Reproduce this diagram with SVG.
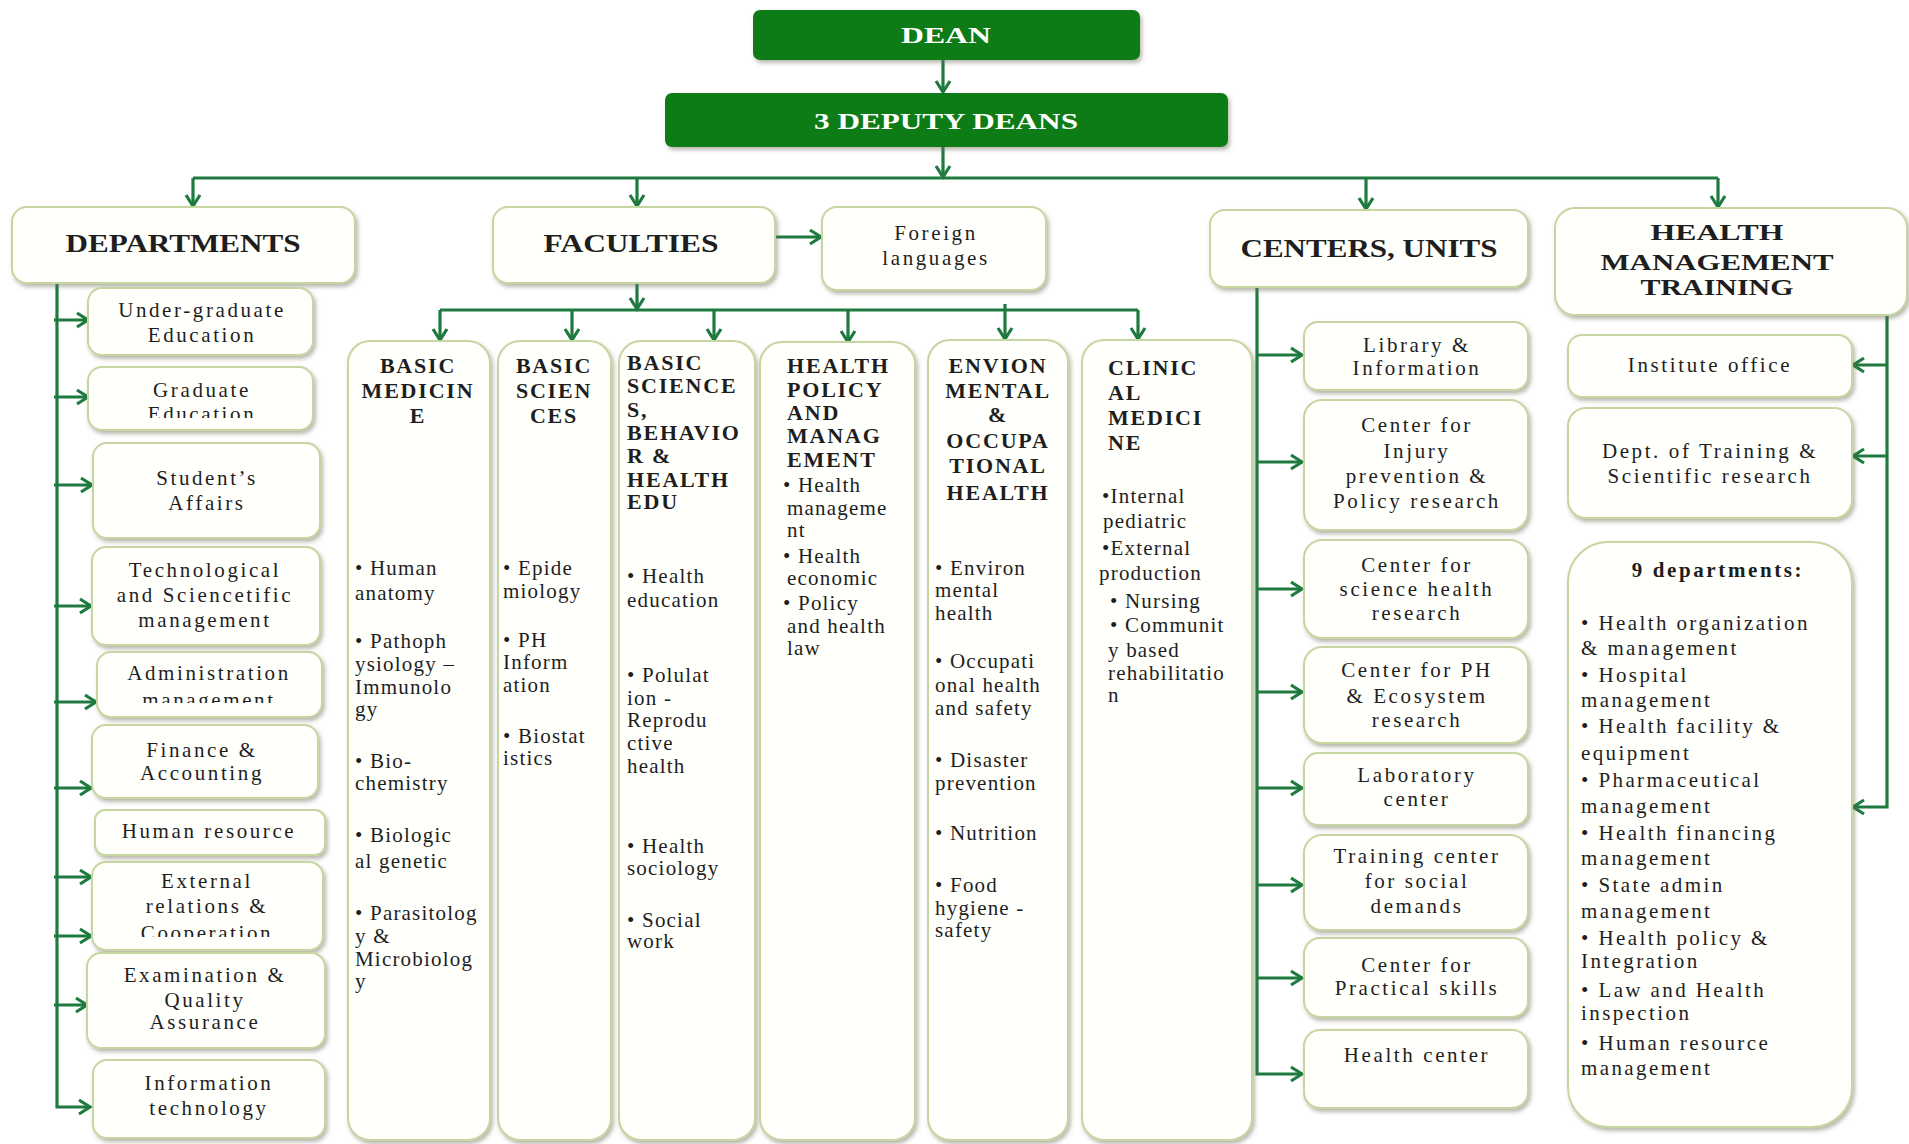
<svg xmlns="http://www.w3.org/2000/svg" width="1909" height="1144" viewBox="0 0 1909 1144">
<style>
text{font-family:"Liberation Serif","Times New Roman",serif;fill:#1e1e1e}
.box{fill:#fffffc;stroke:#c6d6a0;stroke-width:2;filter:url(#sh)}
.dbox{fill:#117c13;filter:url(#sh)}
.conn{stroke:#1e7a3f;stroke-width:3.2;fill:none}
.arr{marker-end:url(#ah)}
.w{fill:#ffffff;font-weight:bold;font-size:23px;text-anchor:middle}
.h{font-weight:bold;font-size:25px;text-anchor:middle}
.h2{font-weight:bold;font-size:23px;text-anchor:middle}
.t{font-size:21px;letter-spacing:2.6px;text-anchor:middle}
.l{font-size:21px;letter-spacing:2.4px}
.ft{font-weight:bold;font-size:22px;letter-spacing:1.8px}
.fc{text-anchor:middle}
.fb{font-size:21px;letter-spacing:1.2px}
.b{font-weight:bold}
</style>
<defs>
<filter id="sh" x="-10%" y="-10%" width="125%" height="125%">
<feDropShadow dx="2" dy="3" stdDeviation="2" flood-color="#6f6f60" flood-opacity="0.5"/>
</filter>
<marker id="ah" markerUnits="userSpaceOnUse" markerWidth="18" markerHeight="18" refX="14" refY="9" orient="auto" viewBox="0 0 18 18">
<path d="M3,2 L14,9 L3,16" fill="none" stroke="#1e7a3f" stroke-width="3.2"/>
</marker>
<clipPath id="c1"><rect x="88" y="367" width="225" height="51"/></clipPath>
<clipPath id="c2"><rect x="97" y="652" width="225" height="51"/></clipPath>
<clipPath id="c3"><rect x="92" y="862" width="231" height="75"/></clipPath>
</defs>
<rect width="1909" height="1144" fill="#ffffff"/>

<g id="connectors">
<path class="conn arr" d="M943,60 V92"/>
<path class="conn arr" d="M943,147 V177"/>
<path class="conn" d="M193,178 H1718"/>
<path class="conn arr" d="M193,178 V206"/>
<path class="conn arr" d="M637,178 V206"/>
<path class="conn arr" d="M1366,178 V209"/>
<path class="conn arr" d="M1718,178 V207"/>
<path class="conn arr" d="M775,237 H821"/>
<path class="conn arr" d="M637,283 V309"/>
<path class="conn" d="M440,310 H1138"/>
<path class="conn arr" d="M440,310 V340"/>
<path class="conn arr" d="M572,310 V340"/>
<path class="conn arr" d="M714,310 V340"/>
<path class="conn arr" d="M848,310 V342"/>
<path class="conn arr" d="M1005,304 V339"/>
<path class="conn arr" d="M1138,310 V339"/>
<path class="conn arr" d="M57,283 V1107 H90"/>
<path class="conn arr" d="M54,320 H88"/>
<path class="conn arr" d="M54,397 H88"/>
<path class="conn arr" d="M54,485 H92"/>
<path class="conn arr" d="M54,606 H91"/>
<path class="conn arr" d="M54,702 H96"/>
<path class="conn arr" d="M54,788 H91"/>
<path class="conn arr" d="M54,877 H91"/>
<path class="conn arr" d="M54,936 H91"/>
<path class="conn arr" d="M54,1005 H87"/>
<path class="conn arr" d="M1257,287 V1074 H1302"/>
<path class="conn arr" d="M1257,355 H1302"/>
<path class="conn arr" d="M1257,462 H1302"/>
<path class="conn arr" d="M1257,589 H1302"/>
<path class="conn arr" d="M1257,692 H1302"/>
<path class="conn arr" d="M1257,788 H1302"/>
<path class="conn arr" d="M1257,885 H1302"/>
<path class="conn arr" d="M1257,978 H1302"/>
<path class="conn arr" d="M1887,315 V807 H1853"/>
<path class="conn arr" d="M1887,365 H1853"/>
<path class="conn arr" d="M1887,456 H1853"/>
</g>

<g id="dean">
<rect class="dbox" x="753" y="10" width="387" height="50" rx="7"/>
<text class="w" x="946" y="43" textLength="90" lengthAdjust="spacingAndGlyphs">DEAN</text>
</g>
<g id="deputy">
<rect class="dbox" x="665" y="93" width="563" height="54" rx="7"/>
<text class="w" x="946" y="129" textLength="264" lengthAdjust="spacingAndGlyphs">3 DEPUTY DEANS</text>
</g>

<g id="departments">
<rect class="box" x="12" y="207" width="343" height="76" rx="15"/>
<text class="h" x="183" y="252" textLength="235" lengthAdjust="spacingAndGlyphs">DEPARTMENTS</text>
</g>
<g id="faculties">
<rect class="box" x="493" y="207" width="282" height="76" rx="15"/>
<text class="h" x="631" y="252" textLength="175" lengthAdjust="spacingAndGlyphs">FACULTIES</text>
</g>
<g id="foreign">
<rect class="box" x="822" y="207" width="224" height="83" rx="15"/>
<text class="t" x="936"><tspan x="936" y="240">Foreign</tspan><tspan x="936" y="265">languages</tspan></text>
</g>
<g id="centers">
<rect class="box" x="1210" y="210" width="318" height="77" rx="15"/>
<text class="h" x="1369" y="257" textLength="257" lengthAdjust="spacingAndGlyphs">CENTERS, UNITS</text>
</g>
<g id="hmt">
<rect class="box" x="1555" y="208" width="352" height="107" rx="20"/>
<text class="h2" x="1717" y="240" textLength="133" lengthAdjust="spacingAndGlyphs">HEALTH</text>
<text class="h2" x="1717" y="270" textLength="233" lengthAdjust="spacingAndGlyphs">MANAGEMENT</text>
<text class="h2" x="1717" y="295" textLength="153" lengthAdjust="spacingAndGlyphs">TRAINING</text>
</g>

<g id="dep-undergrad">
<rect class="box" x="88" y="288" width="225" height="67" rx="14"/>
<text class="t"><tspan x="202" y="317">Under-graduate</tspan><tspan x="202" y="342">Education</tspan></text>
</g>
<g id="dep-grad">
<rect class="box" x="88" y="367" width="225" height="63" rx="14"/>
<text class="t" clip-path="url(#c1)"><tspan x="202" y="397">Graduate</tspan><tspan x="202" y="421">Education</tspan></text>
</g>
<g id="dep-student">
<rect class="box" x="93" y="443" width="227" height="95" rx="14"/>
<text class="t"><tspan x="207" y="485">Student’s</tspan><tspan x="207" y="510">Affairs</tspan></text>
</g>
<g id="dep-tech">
<rect class="box" x="92" y="547" width="228" height="98" rx="14"/>
<text class="t"><tspan x="205" y="577">Technological</tspan><tspan x="205" y="602">and Sciencetific</tspan><tspan x="205" y="627">management</tspan></text>
</g>
<g id="dep-admin">
<rect class="box" x="97" y="652" width="225" height="65" rx="14"/>
<text class="t" clip-path="url(#c2)"><tspan x="209" y="680">Administration</tspan><tspan x="209" y="707">management</tspan></text>
</g>
<g id="dep-finance">
<rect class="box" x="92" y="725" width="226" height="73" rx="14"/>
<text class="t"><tspan x="202" y="757">Finance &amp;</tspan><tspan x="202" y="780">Accounting</tspan></text>
</g>
<g id="dep-hr">
<rect class="box" x="95" y="810" width="230" height="45" rx="10"/>
<text class="t" x="209" y="838">Human resource</text>
</g>
<g id="dep-external">
<rect class="box" x="92" y="862" width="231" height="88" rx="14"/>
<text class="t" clip-path="url(#c3)"><tspan x="207" y="888">External</tspan><tspan x="207" y="913">relations &amp;</tspan><tspan x="207" y="940">Cooperation</tspan></text>
</g>
<g id="dep-exam">
<rect class="box" x="87" y="953" width="238" height="95" rx="14"/>
<text class="t"><tspan x="205" y="982">Examination &amp;</tspan><tspan x="205" y="1007">Quality</tspan><tspan x="205" y="1029">Assurance</tspan></text>
</g>
<g id="dep-it">
<rect class="box" x="93" y="1060" width="232" height="78" rx="14"/>
<text class="t"><tspan x="209" y="1090">Information</tspan><tspan x="209" y="1115">technology</tspan></text>
</g>

<g id="fac-basic-medicine">
<rect class="box" x="348" y="341" width="142" height="799" rx="22"/>
<text class="ft fc"><tspan x="418" y="373">BASIC</tspan><tspan x="418" y="398">MEDICIN</tspan><tspan x="418" y="423">E</tspan></text>
<text class="fb"><tspan x="355" y="575">• Human</tspan><tspan x="355" y="600">anatomy</tspan><tspan x="355" y="648">• Pathoph</tspan><tspan x="355" y="671">ysiology –</tspan><tspan x="355" y="694">Immunolo</tspan><tspan x="355" y="716">gy</tspan><tspan x="355" y="768">• Bio-</tspan><tspan x="355" y="790">chemistry</tspan><tspan x="355" y="842">• Biologic</tspan><tspan x="355" y="868">al genetic</tspan><tspan x="355" y="920">• Parasitolog</tspan><tspan x="355" y="943">y &amp;</tspan><tspan x="355" y="966">Microbiolog</tspan><tspan x="355" y="988">y</tspan></text>
</g>
<g id="fac-basic-sciences">
<rect class="box" x="498" y="341" width="113" height="799" rx="22"/>
<text class="ft fc"><tspan x="554" y="373">BASIC</tspan><tspan x="554" y="398">SCIEN</tspan><tspan x="554" y="423">CES</tspan></text>
<text class="fb"><tspan x="503" y="575">• Epide</tspan><tspan x="503" y="598">miology</tspan><tspan x="503" y="647">• PH</tspan><tspan x="503" y="669">Inform</tspan><tspan x="503" y="692">ation</tspan><tspan x="503" y="743">• Biostat</tspan><tspan x="503" y="765">istics</tspan></text>
</g>
<g id="fac-behavior">
<rect class="box" x="619" y="341" width="136" height="799" rx="22"/>
<text class="ft"><tspan x="627" y="370">BASIC</tspan><tspan x="627" y="393">SCIENCE</tspan><tspan x="627" y="417">S,</tspan><tspan x="627" y="440">BEHAVIO</tspan><tspan x="627" y="463">R &amp;</tspan><tspan x="627" y="487">HEALTH</tspan><tspan x="627" y="509">EDU</tspan></text>
<text class="fb"><tspan x="627" y="583">• Health</tspan><tspan x="627" y="607">education</tspan><tspan x="627" y="682">• Polulat</tspan><tspan x="627" y="705">ion -</tspan><tspan x="627" y="727">Reprodu</tspan><tspan x="627" y="750">ctive</tspan><tspan x="627" y="773">health</tspan><tspan x="627" y="853">• Health</tspan><tspan x="627" y="875">sociology</tspan><tspan x="627" y="927">• Social</tspan><tspan x="627" y="948">work</tspan></text>
</g>
<g id="fac-policy">
<rect class="box" x="760" y="342" width="155" height="798" rx="22"/>
<text class="ft"><tspan x="787" y="373">HEALTH</tspan><tspan x="787" y="397">POLICY</tspan><tspan x="787" y="420">AND</tspan><tspan x="787" y="443">MANAG</tspan><tspan x="787" y="467">EMENT</tspan></text>
<text class="fb"><tspan x="783" y="492">•  Health</tspan><tspan x="787" y="515">manageme</tspan><tspan x="787" y="537">nt</tspan><tspan x="783" y="563">•  Health</tspan><tspan x="787" y="585">economic</tspan><tspan x="783" y="610">•  Policy</tspan><tspan x="787" y="633">and health</tspan><tspan x="787" y="655">law</tspan></text>
</g>
<g id="fac-environmental">
<rect class="box" x="928" y="340" width="140" height="800" rx="22"/>
<text class="ft fc"><tspan x="998" y="373">ENVION</tspan><tspan x="998" y="398">MENTAL</tspan><tspan x="998" y="422">&amp;</tspan><tspan x="998" y="448">OCCUPA</tspan><tspan x="998" y="473">TIONAL</tspan><tspan x="998" y="500">HEALTH</tspan></text>
<text class="fb"><tspan x="935" y="575">• Environ</tspan><tspan x="935" y="597">mental</tspan><tspan x="935" y="620">health</tspan><tspan x="935" y="668">• Occupati</tspan><tspan x="935" y="692">onal health</tspan><tspan x="935" y="715">and safety</tspan><tspan x="935" y="767">• Disaster</tspan><tspan x="935" y="790">prevention</tspan><tspan x="935" y="840">• Nutrition</tspan><tspan x="935" y="892">•  Food</tspan><tspan x="935" y="915">hygiene -</tspan><tspan x="935" y="937">safety</tspan></text>
</g>
<g id="fac-clinical">
<rect class="box" x="1082" y="340" width="170" height="800" rx="22"/>
<text class="ft"><tspan x="1108" y="375">CLINIC</tspan><tspan x="1108" y="400">AL</tspan><tspan x="1108" y="425">MEDICI</tspan><tspan x="1108" y="450">NE</tspan></text>
<text class="fb"><tspan x="1102" y="503">•Internal</tspan><tspan x="1103" y="528">pediatric</tspan><tspan x="1102" y="555">•External</tspan><tspan x="1099" y="580">production</tspan><tspan x="1110" y="608">• Nursing</tspan><tspan x="1110" y="632">• Communit</tspan><tspan x="1108" y="657">y based</tspan><tspan x="1108" y="680">rehabilitatio</tspan><tspan x="1108" y="702">n</tspan></text>
</g>

<g id="ctr-library">
<rect class="box" x="1304" y="322" width="224" height="68" rx="14"/>
<text class="t"><tspan x="1417" y="352">Library &amp;</tspan><tspan x="1417" y="375">Information</tspan></text>
</g>
<g id="ctr-injury">
<rect class="box" x="1304" y="400" width="224" height="130" rx="18"/>
<text class="t"><tspan x="1417" y="432">Center for</tspan><tspan x="1417" y="458">Injury</tspan><tspan x="1417" y="483">prevention &amp;</tspan><tspan x="1417" y="508">Policy research</tspan></text>
</g>
<g id="ctr-science">
<rect class="box" x="1304" y="540" width="224" height="98" rx="18"/>
<text class="t"><tspan x="1417" y="572">Center for</tspan><tspan x="1417" y="596">science health</tspan><tspan x="1417" y="620">research</tspan></text>
</g>
<g id="ctr-ph">
<rect class="box" x="1304" y="647" width="224" height="96" rx="18"/>
<text class="t"><tspan x="1417" y="677">Center for PH</tspan><tspan x="1417" y="703">&amp; Ecosystem</tspan><tspan x="1417" y="727">research</tspan></text>
</g>
<g id="ctr-lab">
<rect class="box" x="1304" y="753" width="224" height="72" rx="14"/>
<text class="t"><tspan x="1417" y="782">Laboratory</tspan><tspan x="1417" y="806">center</tspan></text>
</g>
<g id="ctr-training">
<rect class="box" x="1304" y="835" width="224" height="95" rx="18"/>
<text class="t"><tspan x="1417" y="863">Training center</tspan><tspan x="1417" y="888">for social</tspan><tspan x="1417" y="913">demands</tspan></text>
</g>
<g id="ctr-practical">
<rect class="box" x="1304" y="938" width="224" height="79" rx="16"/>
<text class="t"><tspan x="1417" y="972">Center for</tspan><tspan x="1417" y="995">Practical skills</tspan></text>
</g>
<g id="ctr-health">
<rect class="box" x="1304" y="1030" width="224" height="78" rx="16"/>
<text class="t" x="1417" y="1062">Health center</text>
</g>

<g id="hmt-institute">
<rect class="box" x="1568" y="335" width="284" height="62" rx="14"/>
<text class="t" x="1710" y="372">Institute office</text>
</g>
<g id="hmt-dept">
<rect class="box" x="1568" y="408" width="284" height="110" rx="18"/>
<text class="t"><tspan x="1710" y="458">Dept. of Training &amp;</tspan><tspan x="1710" y="483">Scientific research</tspan></text>
</g>
<g id="hmt-9dept">
<rect class="box" x="1568" y="542" width="284" height="585" rx="40"/>
<text class="t b" x="1718" y="577">9 departments:</text>
<text class="l"><tspan x="1581" y="630">• Health organization</tspan><tspan x="1581" y="655">&amp; management</tspan><tspan x="1581" y="682">• Hospital</tspan><tspan x="1581" y="707">management</tspan><tspan x="1581" y="733">• Health facility &amp;</tspan><tspan x="1581" y="760">equipment</tspan><tspan x="1581" y="787">• Pharmaceutical</tspan><tspan x="1581" y="813">management</tspan><tspan x="1581" y="840">• Health financing</tspan><tspan x="1581" y="865">management</tspan><tspan x="1581" y="892">• State admin</tspan><tspan x="1581" y="918">management</tspan><tspan x="1581" y="945">• Health policy &amp;</tspan><tspan x="1581" y="968">Integration</tspan><tspan x="1581" y="997">• Law and Health</tspan><tspan x="1581" y="1020">inspection</tspan><tspan x="1581" y="1050">• Human resource</tspan><tspan x="1581" y="1075">management</tspan></text>
</g>
</svg>
